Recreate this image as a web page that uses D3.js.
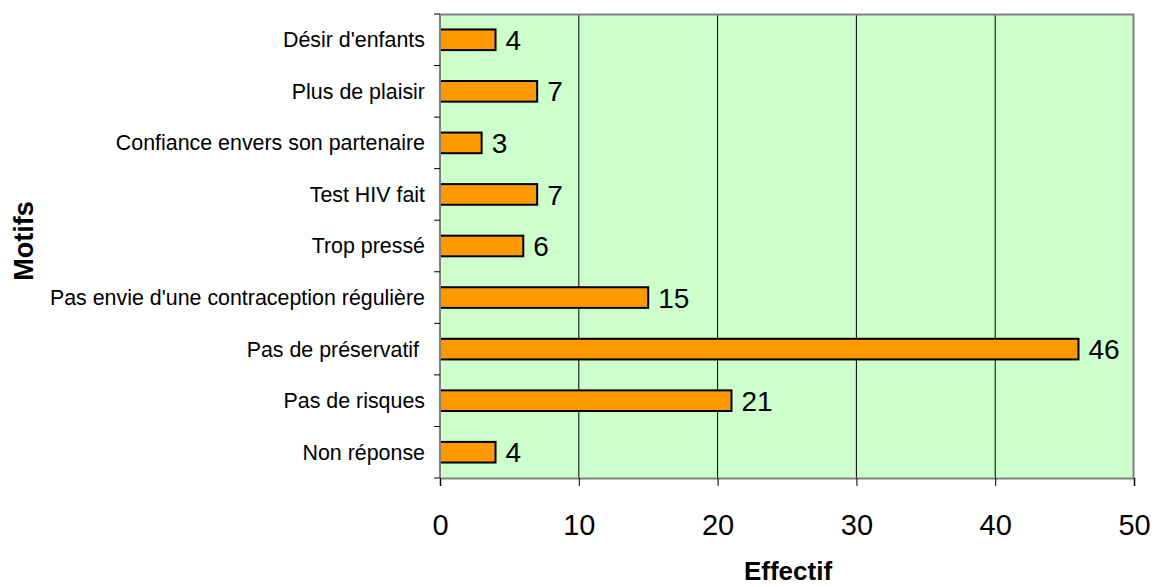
<!DOCTYPE html>
<html>
<head>
<meta charset="utf-8">
<script src="https://cdnjs.cloudflare.com/ajax/libs/d3/7.8.5/d3.min.js"></script>
<style>
  body { margin: 0; background: #fff; }
  svg text { font-family: "Liberation Sans", Arial, sans-serif; }
</style>
</head>
<body>
<div id="chart-area"></div>
<script>
// data
var motifs = [
    "Désir d'enfants",
    "Plus de plaisir",
    "Confiance envers son partenaire",
    "Test HIV fait",
    "Trop pressé",
    "Pas envie d'une contraception régulière",
    "Pas de préservatif\u00a0",
    "Pas de risques",
    "Non réponse"
];
var effectifs = [4, 7, 3, 7, 6, 15, 46, 21, 4];
var xTicks = [0, 10, 20, 30, 40, 50];

var margin = { left: 440, right: 24, top: 14, bottom: 109 };
var width = 1158 - margin.left - margin.right,
    height = 587 - margin.top - margin.bottom;

var svg = d3.select("#chart-area")
    .append("svg")
    .attr("width", 1158)
    .attr("height", 587);

var g = svg.append("g")
    .attr("transform", "translate(" + margin.left + ", " + margin.top + ")");

var x = d3.scaleLinear()
    .domain([0, 50])
    .range([0, width]);

var y = d3.scaleBand()
    .domain(motifs)
    .range([0, height])
    .paddingInner(0.6)
    .paddingOuter(0.3);

var yBand = d3.scaleBand()
    .domain(motifs)
    .range([0, height]);

// plot background
g.append("rect")
    .attr("width", width)
    .attr("height", height)
    .attr("fill", "#ccffcc");

// vertical gridlines
g.selectAll(".grid")
    .data(xTicks.slice(1, -1))
    .enter()
    .append("line")
    .attr("x1", function (d) { return x(d) })
    .attr("x2", function (d) { return x(d) })
    .attr("y1", 0)
    .attr("y2", height)
    .attr("stroke", "#000")
    .attr("stroke-width", 1);

// border top/right
g.append("path")
    .attr("d", "M0,0.5H" + (width - 0.5) + "V" + height)
    .attr("fill", "none")
    .attr("stroke", "#808080")
    .attr("stroke-width", 2);

// bars
g.selectAll(".bar")
    .data(effectifs)
    .enter()
    .append("rect")
    .attr("x", 0)
    .attr("y", function (d, i) { return y(motifs[i]) })
    .attr("width", function (d) { return x(d) })
    .attr("height", y.bandwidth())
    .attr("fill", "#ff9900")
    .attr("stroke", "#000")
    .attr("stroke-width", 2);

// value labels
g.selectAll(".val")
    .data(effectifs)
    .enter()
    .append("text")
    .attr("x", function (d) { return x(d) + 10 })
    .attr("y", function (d, i) { return y(motifs[i]) + y.bandwidth() / 2 })
    .attr("dy", "0.36em")
    .attr("font-size", "28px")
    .attr("fill", "#000")
    .text(function (d) { return d });

// left axis: ticks at band boundaries
var yAxisG = g.append("g");
yAxisG.append("line")
    .attr("x1", 0).attr("x2", 0)
    .attr("y1", 0).attr("y2", height)
    .attr("stroke", "#808080")
    .attr("stroke-width", 2);
var bounds = motifs.map(function (m) { return yBand(m) }).concat([height]);
yAxisG.selectAll(".tk")
    .data(bounds)
    .enter()
    .append("line")
    .attr("x1", -6).attr("x2", 0)
    .attr("y1", function (d) { return d })
    .attr("y2", function (d) { return d })
    .attr("stroke", "#000")
    .attr("stroke-width", 1);
yAxisG.selectAll(".lbl")
    .data(motifs)
    .enter()
    .append("text")
    .attr("x", -15)
    .attr("y", function (d) { return yBand(d) + yBand.bandwidth() / 2 })
    .attr("dy", "0.35em")
    .attr("text-anchor", "end")
    .attr("font-size", "21.4px")
    .text(function (d) { return d });

// bottom axis
var xAxisG = g.append("g")
    .attr("transform", "translate(0, " + height + ")")
    .call(d3.axisBottom(x).tickValues(xTicks).tickSize(8).tickPadding(28));
xAxisG.select(".domain")
    .attr("stroke", "#808080")
    .attr("stroke-width", 2);
xAxisG.selectAll(".tick line").attr("stroke", "#000");
xAxisG.selectAll("text")
    .attr("font-size", "29px")
    .attr("font-family", "Liberation Sans, Arial, sans-serif");

// axis titles
svg.append("text")
    .attr("x", 788)
    .attr("y", 580)
    .attr("text-anchor", "middle")
    .attr("font-size", "26px")
    .attr("font-weight", "bold")
    .text("Effectif");

svg.append("text")
    .attr("transform", "translate(33, 241) rotate(-90)")
    .attr("text-anchor", "middle")
    .attr("font-size", "27px")
    .attr("font-weight", "bold")
    .text("Motifs");
</script>
</body>
</html>
